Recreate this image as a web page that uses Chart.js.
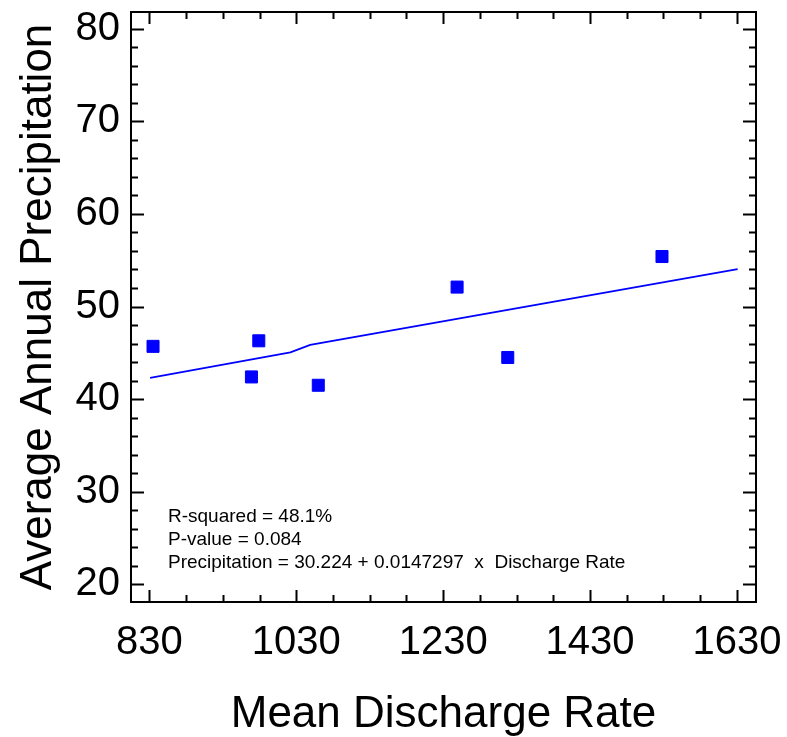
<!DOCTYPE html>
<html>
<head>
<meta charset="utf-8">
<script src="https://cdn.jsdelivr.net/npm/chart.js@4/dist/chart.umd.min.js"></script>
<style>
  html, body { margin: 0; padding: 0; background: #fff; }
  canvas { display: block; }
</style>
</head>
<body>
<canvas id="chart" width="787" height="737"></canvas>
<script>
// Data
const discharge = [835, 969, 979, 1060, 1249, 1318, 1528];
const precipitation = [45.7, 42.4, 46.3, 41.5, 52.1, 44.5, 55.4];
const fitDischarge = [831, 1022, 1049, 1631];
const fitPrecip = [42.3, 45.05, 45.85, 54.05];
const xTickValues = [830, 1030, 1230, 1430, 1630];
const yTickValues = [20, 30, 40, 50, 60, 70, 80];
const statLines = [
    'R-squared = 48.1%',
    'P-value = 0.084',
    'Precipitation = 30.224 + 0.0147297  x  Discharge Rate'
];

const FONT = "'Liberation Sans', Arial, sans-serif";
const BLUE = '#0000ff';

// Frame, inward ticks on all four sides, and the stats text
const framePlugin = {
    id: 'frame',
    afterDraw(chart) {
        const ctx = chart.ctx;
        const a = chart.chartArea;
        const xs = chart.scales.x;
        const ys = chart.scales.y;
        ctx.save();
        ctx.strokeStyle = '#000';
        ctx.lineWidth = 2;

        // x ticks: major every 200, minor every 50
        for (let v = 830; v <= 1630; v += 50) {
            const px = Math.round(xs.getPixelForValue(v)) + 0.5;
            const len = (v - 830) % 200 === 0 ? 12 : 7;
            ctx.beginPath();
            ctx.moveTo(px, a.bottom); ctx.lineTo(px, a.bottom - len);
            ctx.moveTo(px, a.top); ctx.lineTo(px, a.top + len);
            ctx.stroke();
        }
        // y ticks: major every 10, minor every 2
        for (let v = 20; v <= 80; v += 2) {
            const py = Math.round(ys.getPixelForValue(v)) + 0.5;
            const len = v % 10 === 0 ? 13 : 7;
            ctx.beginPath();
            ctx.moveTo(a.left, py); ctx.lineTo(a.left + len, py);
            ctx.moveTo(a.right, py); ctx.lineTo(a.right - len, py);
            ctx.stroke();
        }
        ctx.strokeRect(a.left, a.top, a.right - a.left, a.bottom - a.top);

        ctx.fillStyle = '#000';
        ctx.font = '19px ' + FONT;
        ctx.textBaseline = 'middle';
        ctx.textAlign = 'left';
        statLines.forEach((t, i) => {
            ctx.fillText(t, a.left + 37, a.top + 505 + i * 23);
        });
        ctx.restore();
    }
};

const ctx = document.getElementById('chart');
new Chart(ctx, {
    type: 'scatter',
    data: {
        datasets: [{
            label: 'Observed',
            data: discharge.map((d, i) => ({ x: d, y: precipitation[i] })),
            pointStyle: 'rect',
            pointRadius: 8.5,
            backgroundColor: BLUE,
            borderColor: BLUE,
            borderWidth: 1,
            order: 0
        }, {
            label: 'Fit',
            data: fitDischarge.map((d, i) => ({ x: d, y: fitPrecip[i] })),
            showLine: true,
            pointRadius: 0,
            borderColor: BLUE,
            borderWidth: 1.8,
            order: 1
        }]
    },
    options: {
        responsive: false,
        animation: false,
        layout: { padding: { top: 12, right: 31, left: 0, bottom: 0 } },
        plugins: {
            legend: { display: false },
            tooltip: { enabled: false }
        },
        scales: {
            x: {
                type: 'linear',
                min: 805,
                max: 1656,
                afterBuildTicks: (s) => { s.ticks = xTickValues.map(v => ({ value: v })); },
                afterFit: (s) => { s.height = 135; s.paddingLeft = 0; s.paddingRight = 0; },
                grid: { display: false, drawTicks: false },
                border: { display: false },
                ticks: {
                    color: '#000',
                    font: { family: FONT, size: 40 },
                    padding: 17,
                    maxRotation: 0,
                    autoSkip: false,
                    callback: (v) => String(v)
                },
                title: {
                    display: true,
                    text: 'Mean Discharge Rate',
                    color: '#000',
                    font: { family: FONT, size: 44, lineHeight: 1 },
                    padding: { top: 0, bottom: 0 }
                }
            },
            y: {
                type: 'linear',
                min: 18.1,
                max: 81.8,
                afterBuildTicks: (s) => { s.ticks = yTickValues.map(v => ({ value: v })); },
                afterFit: (s) => { s.width = 131; s.paddingTop = 0; s.paddingBottom = 0; },
                grid: { display: false, drawTicks: false },
                border: { display: false },
                ticks: {
                    color: '#000',
                    font: { family: FONT, size: 40 },
                    padding: 11,
                    callback: (v) => String(v)
                },
                title: {
                    display: true,
                    text: 'Average Annual Precipitation',
                    color: '#000',
                    font: { family: FONT, size: 44, lineHeight: 1 },
                    padding: { top: 17, bottom: 0 }
                }
            }
        }
    },
    plugins: [framePlugin]
});
</script>
</body>
</html>
